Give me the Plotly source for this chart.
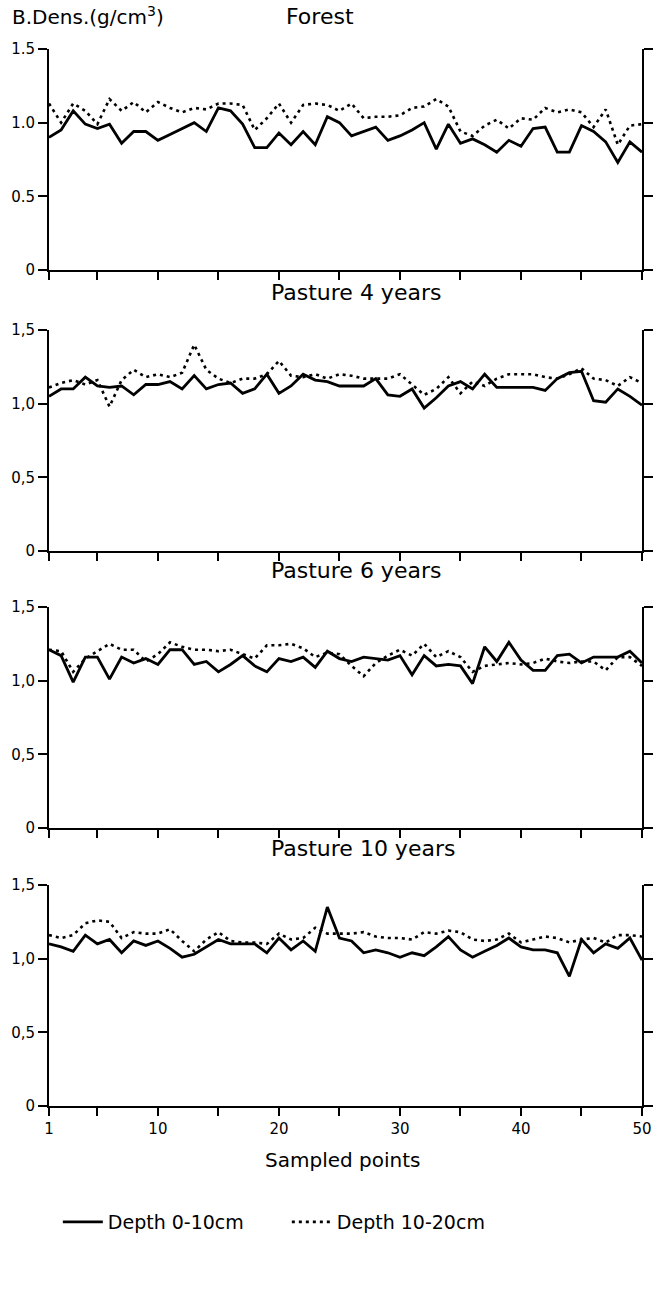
import plotly.graph_objects as go

# ---------------- data ----------------
sample_points = list(range(1, 51))

panel_titles = ["Forest", "Pasture 4 years", "Pasture 6 years", "Pasture 10 years"]
series_names = ["Depth 0-10cm", "Depth 10-20cm"]

forest_0_10 = [0.90, 0.95, 1.08, 0.99, 0.96, 0.99, 0.86, 0.94, 0.94, 0.88,
               0.92, 0.96, 1.00, 0.94, 1.10, 1.08, 0.99, 0.83, 0.83, 0.93,
               0.85, 0.94, 0.85, 1.04, 1.00, 0.91, 0.94, 0.97, 0.88, 0.91,
               0.95, 1.00, 0.82, 0.99, 0.86, 0.89, 0.85, 0.80, 0.88, 0.84,
               0.96, 0.97, 0.80, 0.80, 0.98, 0.94, 0.87, 0.73, 0.87, 0.80]
forest_10_20 = [1.13, 1.00, 1.13, 1.08, 0.99, 1.16, 1.08, 1.14, 1.07, 1.14,
                1.10, 1.07, 1.10, 1.09, 1.13, 1.13, 1.12, 0.95, 1.03, 1.13,
                1.00, 1.12, 1.13, 1.12, 1.08, 1.13, 1.03, 1.04, 1.04, 1.05,
                1.10, 1.11, 1.16, 1.11, 0.94, 0.91, 0.98, 1.02, 0.96, 1.03,
                1.02, 1.10, 1.07, 1.09, 1.07, 0.97, 1.09, 0.85, 0.98, 0.99]

p4_0_10 = [1.05, 1.10, 1.10, 1.18, 1.12, 1.11, 1.12, 1.06, 1.13, 1.13,
           1.15, 1.10, 1.19, 1.10, 1.13, 1.14, 1.07, 1.10, 1.20, 1.07,
           1.12, 1.20, 1.16, 1.15, 1.12, 1.12, 1.12, 1.17, 1.06, 1.05,
           1.10, 0.97, 1.04, 1.12, 1.15, 1.10, 1.20, 1.11, 1.11, 1.11,
           1.11, 1.09, 1.17, 1.21, 1.22, 1.02, 1.01, 1.10, 1.05, 0.99]
p4_10_20 = [1.11, 1.14, 1.16, 1.13, 1.16, 0.98, 1.16, 1.23, 1.18, 1.20,
            1.18, 1.21, 1.40, 1.23, 1.17, 1.14, 1.17, 1.17, 1.20, 1.29,
            1.19, 1.18, 1.20, 1.17, 1.20, 1.19, 1.17, 1.17, 1.17, 1.20,
            1.13, 1.06, 1.10, 1.18, 1.07, 1.15, 1.12, 1.17, 1.20, 1.20,
            1.20, 1.18, 1.17, 1.20, 1.24, 1.17, 1.16, 1.12, 1.18, 1.14]

p6_0_10 = [1.21, 1.17, 0.99, 1.16, 1.16, 1.01, 1.16, 1.12, 1.15, 1.11,
           1.21, 1.21, 1.11, 1.13, 1.06, 1.11, 1.17, 1.10, 1.06, 1.15,
           1.13, 1.16, 1.09, 1.20, 1.15, 1.13, 1.16, 1.15, 1.14, 1.17,
           1.04, 1.17, 1.10, 1.11, 1.10, 0.98, 1.23, 1.13, 1.26, 1.14,
           1.07, 1.07, 1.17, 1.18, 1.12, 1.16, 1.16, 1.16, 1.20, 1.12]
p6_10_20 = [1.21, 1.20, 1.06, 1.15, 1.20, 1.25, 1.21, 1.21, 1.13, 1.18,
            1.26, 1.23, 1.21, 1.21, 1.20, 1.21, 1.18, 1.15, 1.24, 1.24,
            1.25, 1.22, 1.16, 1.19, 1.18, 1.10, 1.03, 1.12, 1.17, 1.21,
            1.17, 1.25, 1.16, 1.20, 1.16, 1.06, 1.10, 1.11, 1.12, 1.11,
            1.12, 1.15, 1.13, 1.12, 1.13, 1.13, 1.07, 1.16, 1.16, 1.10]

p10_0_10 = [1.10, 1.08, 1.05, 1.16, 1.10, 1.13, 1.04, 1.12, 1.09, 1.12,
            1.07, 1.01, 1.03, 1.08, 1.13, 1.10, 1.10, 1.10, 1.04, 1.14,
            1.06, 1.12, 1.05, 1.35, 1.14, 1.12, 1.04, 1.06, 1.04, 1.01,
            1.04, 1.02, 1.08, 1.15, 1.06, 1.01, 1.05, 1.09, 1.14, 1.08,
            1.06, 1.06, 1.04, 0.88, 1.13, 1.04, 1.10, 1.07, 1.14, 0.99]
p10_10_20 = [1.16, 1.14, 1.16, 1.24, 1.26, 1.25, 1.14, 1.18, 1.17, 1.17,
             1.20, 1.12, 1.05, 1.13, 1.18, 1.12, 1.11, 1.11, 1.10, 1.17,
             1.13, 1.14, 1.21, 1.17, 1.17, 1.17, 1.18, 1.15, 1.14, 1.14,
             1.13, 1.18, 1.17, 1.19, 1.18, 1.13, 1.12, 1.13, 1.17, 1.11,
             1.13, 1.15, 1.14, 1.11, 1.13, 1.14, 1.11, 1.16, 1.16, 1.15]

panel_0_10 = [forest_0_10, p4_0_10, p6_0_10, p10_0_10]
panel_10_20 = [forest_10_20, p4_10_20, p6_10_20, p10_10_20]

y_tickvals = [0, 0.5, 1.0, 1.5]
y_ticktext_dot = ["0", "0.5", "1.0", "1.5"]
y_ticktext_comma = ["0", "0,5", "1,0", "1,5"]
x_tickvals = [1, 5, 10, 15, 20, 25, 30, 35, 40, 45, 50]
x_ticktext = ["1", " ", "10", " ", "20", " ", "30", " ", "40", " ", "50"]

# ---------------- layout geometry ----------------
W, H = 661, 1291
panel_top_px = [49, 330, 607, 885]
PANEL_H = 221
ML, MR = 49, 8
MT = panel_top_px[0]
MB = H - (panel_top_px[-1] + PANEL_H)
PLOT_W = W - ML - MR
PLOT_H = H - MT - MB
title_y_px = [17, 292, 570, 848]
title_x_px = [288, 273, 273, 273]
FONT = "DejaVu Sans"


def py(px):
    return (H - MB - px) / PLOT_H


def pxx(px):
    return (px - ML) / PLOT_W


def dom(v):
    return min(1.0, max(0.0, v))


fig = go.Figure()
layout = dict(
    width=W, height=H,
    margin=dict(l=ML, r=MR, t=MT, b=MB),
    paper_bgcolor="white", plot_bgcolor="white",
    font=dict(family=FONT, color="black", size=15),
    showlegend=True,
)

for k in range(4):
    xa = "x" if k == 0 else f"x{k+1}"
    ya = "y" if k == 0 else f"y{k+1}"
    fig.add_trace(go.Scatter(
        x=sample_points, y=panel_0_10[k], mode="lines",
        line=dict(color="black", width=2.8),
        name=series_names[0], showlegend=(k == 0), legendgroup="a",
        xaxis=xa, yaxis=ya, cliponaxis=False))
    fig.add_trace(go.Scatter(
        x=sample_points, y=panel_10_20[k], mode="lines",
        line=dict(color="black", width=2.6, dash="3px,4px"),
        name=series_names[1], showlegend=(k == 0), legendgroup="b",
        xaxis=xa, yaxis=ya, cliponaxis=False))

    top = panel_top_px[k]
    xkey = "xaxis" if k == 0 else f"xaxis{k+1}"
    ykey = "yaxis" if k == 0 else f"yaxis{k+1}"
    layout[xkey] = dict(
        domain=[0, 1], anchor=ya, range=[1, 50],
        showline=True, linewidth=2, linecolor="black",
        ticks="outside", ticklen=8, tickwidth=1.6, tickcolor="black",
        tickvals=x_tickvals, ticktext=x_ticktext,
        showticklabels=(k == 3), showgrid=False, zeroline=False,
        tickfont=dict(size=15, family=FONT),
    )
    layout[ykey] = dict(
        domain=[dom(py(top + PANEL_H)), dom(py(top))], anchor=xa, range=[0, 1.5],
        showline=True, linewidth=2, linecolor="black", mirror="ticks",
        ticks="outside", ticklen=9, tickwidth=1.6, tickcolor="black",
        tickvals=y_tickvals,
        ticktext=(y_ticktext_dot if k == 0 else y_ticktext_comma),
        showgrid=False, zeroline=False,
        tickfont=dict(size=15, family=FONT),
    )

annotations = []
annotations.append(dict(
    text="B.Dens.(g/cm<sup>3</sup>)", xref="paper", yref="paper",
    x=pxx(9), y=py(16), xanchor="left", yanchor="middle",
    showarrow=False, font=dict(size=20, family=FONT)))
for k in range(4):
    annotations.append(dict(
        text=panel_titles[k], xref="paper", yref="paper",
        x=pxx(title_x_px[k]), y=py(title_y_px[k]), xanchor="left", yanchor="middle",
        showarrow=False, font=dict(size=22, family=FONT)))
annotations.append(dict(
    text="Sampled points", xref="paper", yref="paper",
    x=pxx(348), y=py(1160), xanchor="center", yanchor="middle",
    showarrow=False, font=dict(size=20, family=FONT)))
layout["annotations"] = annotations

layout["legend"] = dict(
    orientation="h", x=pxx(58), y=py(1222), xanchor="left", yanchor="middle",
    font=dict(size=19, family=FONT), entrywidth=174, entrywidthmode="pixels",
    bgcolor="rgba(0,0,0,0)", itemwidth=40,
)

fig.update_layout(**layout)
fig.write_html("out.html")
